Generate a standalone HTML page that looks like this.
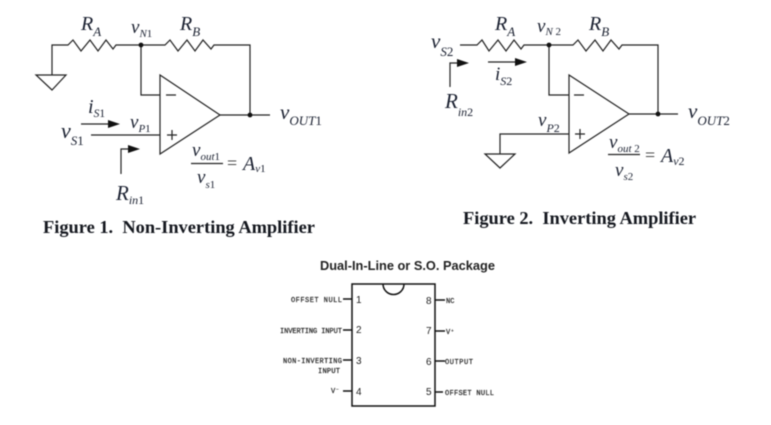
<!DOCTYPE html>
<html>
<head>
<meta charset="utf-8">
<style>
html,body{margin:0;padding:0;background:#fff;width:771px;height:425px;overflow:hidden}
svg{display:block;filter:blur(0.45px)}
.w{fill:none;stroke:#222;stroke-width:1.2}
.s{font-family:"Liberation Serif",serif;font-style:italic;fill:#1a2030}
.u{font-style:normal}
.cap{font-family:"Liberation Serif",serif;font-weight:bold;font-size:18.400px;fill:#15181f}
.h{font-family:"Liberation Sans",sans-serif;font-weight:bold;font-size:12.800px;fill:#222}
.p{font-family:"Liberation Mono",monospace;font-size:7px;fill:#222;stroke:#222;stroke-width:.2}
.n{font-family:"Liberation Sans",sans-serif;font-size:10px;fill:#222}
</style>
</head>
<body>
<svg width="771" height="425" viewBox="0 0 771 425" xmlns="http://www.w3.org/2000/svg">
<!-- Figure 1 -->
<g class="w">
<path d="M52 75V45H68L73 40 81 51 90 40 98 51 106 40 113 49 116 45H165L170 40 178 51 187 40 195 51 203 40 211 49 214 45H250V115"/>
<path d="M36 75H66L52 90Z"/>
<path d="M160 75V154L220 115Z"/>
<path d="M141 45V95H160"/>
<path d="M91 135H160"/>
<path d="M220 115H270"/>
<path d="M166 95H176M167 135H177M172 130V140"/>
<path d="M81 124H110M121 174V149H130"/>
</g>
<path d="M108 120L120 124 108 128Z M128 145L140 149 128 153Z" fill="#111"/>
<circle cx="141" cy="45" r="2.400" fill="#111"/>
<circle cx="250" cy="115" r="2.400" fill="#111"/>
<text class="s" x="81" y="30" font-size="20">R<tspan font-size="13" dy="6">A</tspan></text>
<text class="s" x="131" y="33" font-size="19">v<tspan font-size="11" dy="4">N</tspan><tspan class="u" font-size="11">1</tspan></text>
<text class="s" x="180" y="30" font-size="20">R<tspan font-size="13" dy="6">B</tspan></text>
<text class="s" x="88" y="113" font-size="20">i<tspan font-size="11.500" dy="4">S</tspan><tspan class="u" font-size="11.500">1</tspan></text>
<text class="s" x="130" y="128" font-size="19">v<tspan font-size="11" dy="4">P</tspan><tspan class="u" font-size="11">1</tspan></text>
<text class="s" x="61" y="138" font-size="22">v<tspan font-size="13" dy="7">S</tspan><tspan class="u" font-size="13">1</tspan></text>
<text class="s" x="280" y="119" font-size="21">v<tspan font-size="13" dy="6">OUT</tspan><tspan class="u" font-size="13">1</tspan></text>
<text class="s" x="192" y="156" font-size="19">v<tspan font-size="11" dy="4">out</tspan><tspan class="u" font-size="11">1</tspan></text>
<path class="w" d="M191 163.500H223"/>
<text x="227" y="169" font-family="Liberation Serif,serif" font-size="18" fill="#333">=</text>
<text class="s" x="243" y="170" font-size="20">A<tspan font-size="11" dy="2">v</tspan><tspan class="u" font-size="11">1</tspan></text>
<text class="s" x="197" y="183" font-size="19">v<tspan font-size="11" dy="5">s</tspan><tspan class="u" font-size="11">1</tspan></text>
<text class="s" x="116" y="200" font-size="21">R<tspan font-size="12" dy="4">in</tspan><tspan class="u" font-size="12">1</tspan></text>
<text class="cap" x="43" y="233">Figure 1.&#160; Non-Inverting Amplifier</text>

<!-- Figure 2 -->
<g class="w">
<path d="M460 45H477L482 40 489 51 498 40 506 51 514 40 521 49 524 45H573L578 40 586 51 595 40 603 51 611 40 619 49 622 45H658V114"/>
<path d="M485 154H515L500 168Z"/>
<path d="M500 154V134H569"/>
<path d="M569 75V153L629 114Z"/>
<path d="M549 45V95H569"/>
<path d="M629 114H678"/>
<path d="M574 95H584M575 134H585M580 129V139"/>
<path d="M488 62H517M450 87V63H458"/>
</g>
<path d="M515 58L527 62 515 66Z M457 59L469 63 457 67Z" fill="#111"/>
<circle cx="549" cy="45" r="2.400" fill="#111"/>
<circle cx="658" cy="114" r="2.400" fill="#111"/>
<text class="s" x="495" y="30" font-size="20">R<tspan font-size="13" dy="6">A</tspan></text>
<text class="s" x="537" y="32" font-size="19">v<tspan font-size="11" dy="3">N</tspan><tspan class="u" font-size="11"> 2</tspan></text>
<text class="s" x="589" y="30" font-size="20">R<tspan font-size="13" dy="6">B</tspan></text>
<text class="s" x="431" y="48" font-size="21">v<tspan font-size="13" dy="8">S</tspan><tspan class="u" font-size="13">2</tspan></text>
<text class="s" x="495" y="80" font-size="19">i<tspan font-size="12" dy="5">S</tspan><tspan class="u" font-size="12">2</tspan></text>
<text class="s" x="445" y="108" font-size="21">R<tspan font-size="12" dy="8">in</tspan><tspan class="u" font-size="12">2</tspan></text>
<text class="s" x="538" y="126" font-size="19">v<tspan font-size="12" dy="6">P</tspan><tspan class="u" font-size="12">2</tspan></text>
<text class="s" x="688" y="118" font-size="21">v<tspan font-size="13" dy="7">OUT</tspan><tspan class="u" font-size="13">2</tspan></text>
<text class="s" x="609" y="148" font-size="19">v<tspan font-size="11" dy="4">out</tspan><tspan class="u" font-size="11"> 2</tspan></text>
<path class="w" d="M608 154.500H640"/>
<text x="645" y="161" font-family="Liberation Serif,serif" font-size="18" fill="#333">=</text>
<text class="s" x="661" y="162" font-size="20">A<tspan font-size="12" dy="3">v</tspan><tspan class="u" font-size="12">2</tspan></text>
<text class="s" x="615" y="176" font-size="19">v<tspan font-size="11" dy="4">s</tspan><tspan class="u" font-size="11">2</tspan></text>
<text class="cap" x="463" y="224">Figure 2.&#160; Inverting Amplifier</text>

<!-- Package -->
<text class="h" x="320" y="270">Dual-In-Line or S.O. Package</text>
<g fill="none" stroke="#111" stroke-width="1.500">
<path d="M352 284H435V406H352Z"/>
<path d="M383 284A10.500 10.500 0 0 0 404 284"/>
<path d="M343 299H352M343 330H352M343 360H352M343 391H352M435 300H445M435 331H445M435 361H445M435 392H443"/>
</g>
<g class="n">
<text x="356" y="303">1</text><text x="356" y="333">2</text><text x="356" y="364">3</text><text x="356" y="395">4</text>
<text x="426" y="304">8</text><text x="426" y="334">7</text><text x="426" y="365">6</text><text x="426" y="395">5</text>
</g>
<g class="p">
<text x="291" y="302" textLength="51">OFFSET NULL</text>
<text x="280" y="333" textLength="62">INVERTING INPUT</text>
<text x="283" y="363" textLength="59">NON-INVERTING</text>
<text x="318" y="373" textLength="22">INPUT</text>
<text x="331" y="393">V⁻</text>
<text x="446" y="303">NC</text>
<text x="446" y="334">V⁺</text>
<text x="445" y="364" textLength="28">OUTPUT</text>
<text x="445" y="395" textLength="49">OFFSET NULL</text>
</g>
</svg>
</body>
</html>
